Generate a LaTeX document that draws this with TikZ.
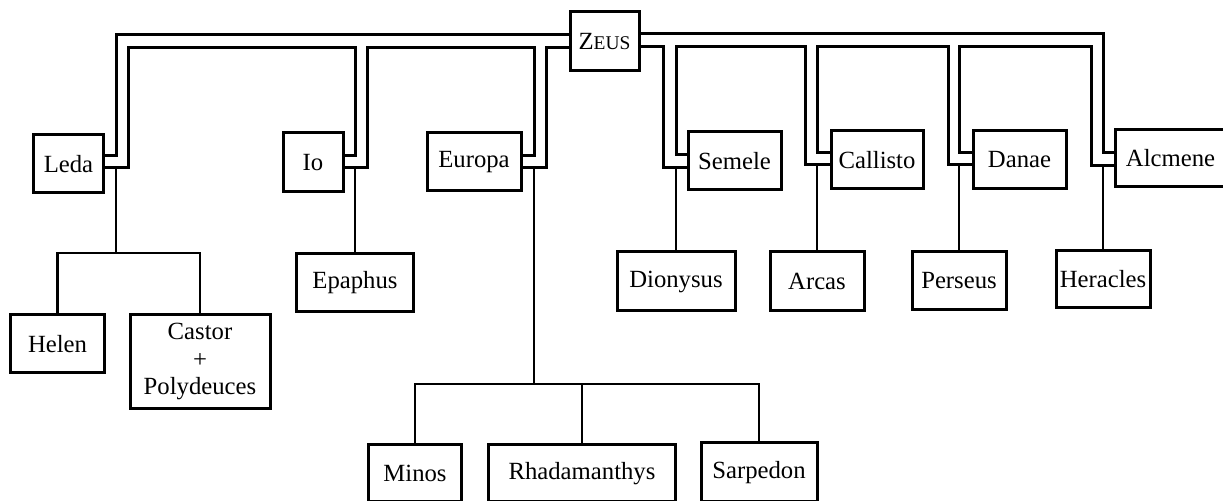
\documentclass[tikz,border=0pt]{standalone}
\usepackage{fontspec}
\setmainfont{Liberation Serif}
\newcommand{\capsname}[2]{#1{\fontsize{19.5}{20}\selectfont #2}}
\begin{document}
\begin{tikzpicture}[x=1bp,y=-1bp,
  person/.style={draw, line width=3bp, inner sep=0pt, align=center,
                 font=\fontsize{24.8}{28}\selectfont},
  tie/.style={line width=3bp, line join=miter},
  descent/.style={line width=2.6bp}]
\useasboundingbox (0,0) rectangle (1223,501);

% Zeus
\node[person, minimum width=69bp, minimum height=59bp] (zeus) at (604.5,41.5) {\capsname{Z}{EUS}};

% partners
\node[person, minimum width=69bp, minimum height=58bp] (leda)     at (68.5,164)   {Leda};
\node[person, minimum width=60bp, minimum height=59bp] (io)       at (313,162.5)  {Io};
\node[person, minimum width=94bp, minimum height=58bp] (europa)   at (474,162)    {Europa};
\node[person, minimum width=93bp, minimum height=58bp] (semele)   at (734.5,161)  {Semele};
\node[person, minimum width=92bp, minimum height=58bp] (callisto) at (877,160)    {Callisto};
\node[person, minimum width=93bp, minimum height=58bp] (danae)    at (1019.5,160) {Danae};
\node[person, minimum width=111bp, minimum height=57bp] (alcmene) at (1170.5,158.5) {Alcmene};

% children
\node[person, minimum width=93bp, minimum height=58bp]  (helen)    at (57.5,344)   {Helen};
\node[person, minimum width=140bp, minimum height=93bp] (castor)   at (200,361.5)  {Castor\\+\\Polydeuces};
\node[person, minimum width=117bp, minimum height=58bp] (epaphus)  at (355,283)    {Epaphus};
\node[person, minimum width=118bp, minimum height=59bp] (dionysus) at (676,281.5)  {Dionysus};
\node[person, minimum width=94bp, minimum height=59bp]  (arcas)    at (817,281.5)  {Arcas};
\node[person, minimum width=94bp, minimum height=58bp]  (perseus)  at (959,281)    {Perseus};
\node[person, minimum width=94bp, minimum height=57bp]  (heracles) at (1103,279.5) {Heracles};
\node[person, minimum width=93bp, minimum height=56.5bp]  (minos)        at (415,473.25) {Minos};
\node[person, minimum width=187bp, minimum height=56.5bp] (rhadamanthys) at (582,473.25) {Rhadamanthys};
\node[person, minimum width=116bp, minimum height=58.5bp] (sarpedon)     at (759,472.25) {Sarpedon};

% levels of the double lines
\coordinate (yOutL) at (0,35);
\coordinate (yInL)  at (0,48);
\coordinate (yOutR) at (0,34);
\coordinate (yInR)  at (0,47);

% bends of the double lines at each partner
\coordinate (ledaA) at (116,156);  \coordinate (ledaB) at (128,168);
\coordinate (ioA)   at (355,156);  \coordinate (ioB)   at (367,168);
\coordinate (euA)   at (534,156);  \coordinate (euB)   at (546,168);
\coordinate (seA)   at (676,155);  \coordinate (seB)   at (663,168);
\coordinate (caA)   at (817,153);  \coordinate (caB)   at (805,165);
\coordinate (daA)   at (959,153);  \coordinate (daB)   at (948,165);
\coordinate (alA)   at (1103,153); \coordinate (alB)   at (1091,166);

% left-hand unions
\draw[tie] (zeus.west |- yOutL) -| (ledaA) -- (leda.east |- ledaA);
\draw[tie] (zeus.west |- yInL) -| (euB) -- (europa.east |- euB);
\draw[tie] (europa.east |- euA) -- (euA) -- (euA |- yInL) -- (ioB |- yInL) -- (ioB) -- (io.east |- ioB);
\draw[tie] (io.east |- ioA) -- (ioA) -- (ioA |- yInL) -- (ledaB |- yInL) -- (ledaB) -- (leda.east |- ledaB);

% right-hand unions
\draw[tie] (zeus.east |- yOutR) -| (alA) -- (alcmene.west |- alA);
\draw[tie] (zeus.east |- yInR) -| (seB) -- (semele.west |- seB);
\draw[tie] (semele.west |- seA) -- (seA) -- (seA |- yInR) -- (caB |- yInR) -- (caB) -- (callisto.west |- caB);
\draw[tie] (callisto.west |- caA) -- (caA) -- (caA |- yInR) -- (daB |- yInR) -- (daB) -- (danae.west |- daB);
\draw[tie] (danae.west |- daA) -- (daA) -- (daA |- yInR) -- (alB |- yInR) -- (alB) -- (alcmene.west |- alB);

% lines of descent
\coordinate (ledaFork) at (116,253);
\coordinate (euFork)   at (534,384);
\draw[descent] (ledaA |- ledaB) -- (ledaFork);
\draw[descent] (helen.north) |- (ledaFork) -| (castor.north);
\draw[descent] (ioA |- ioB) -- (epaphus.north);
\draw[descent] (euA |- euB) -- (euFork);
\draw[descent] (minos.north) |- (euFork) -| (sarpedon.north);
\draw[descent] (rhadamanthys.north |- euFork) -- (rhadamanthys.north);
\draw[descent] (seA |- seB) -- (dionysus.north);
\draw[descent] (caA |- caB) -- (arcas.north);
\draw[descent] (daA |- daB) -- (perseus.north);
\draw[descent] (alA |- alB) -- (heracles.north);
\end{tikzpicture}
\end{document}
